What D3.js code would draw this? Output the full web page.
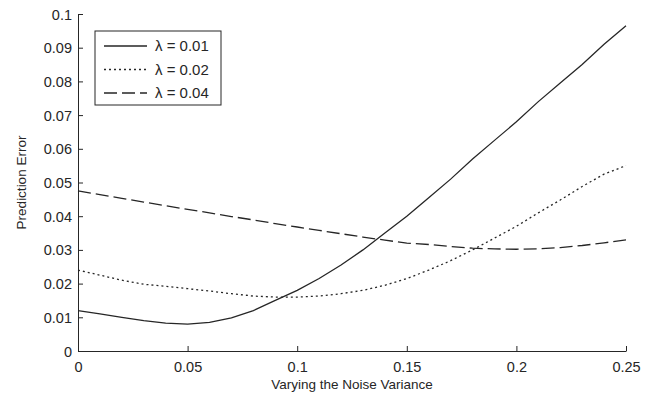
<!DOCTYPE html>
<html lang="en">
<head>
    <meta charset="UTF-8">
    <title>Prediction Error vs Noise Variance</title>
    <style>
        body { margin: 0; background: #fff; }
        text {
            font-family: "Liberation Sans", Arial, sans-serif;
            font-size: 13.5px;
            fill: #262626;
        }
        .axis text { font-size: 14.5px; }
        .axis path, .axis line { stroke: #262626; }
        .series { fill: none; stroke: #262626; stroke-width: 1.3px; }
    </style>
    <script src="https://d3js.org/d3.v7.min.js"></script>
</head>
<body>
<svg></svg>
<script>
    // noise variance values
    const noise = [0, 0.01, 0.02, 0.03, 0.04, 0.05, 0.06, 0.07, 0.08, 0.09, 0.1, 0.11, 0.12,
        0.13, 0.14, 0.15, 0.16, 0.17, 0.18, 0.19, 0.2, 0.21, 0.22, 0.23, 0.24, 0.25];
    const errL001 = [0.012, 0.011, 0.010, 0.009, 0.0083, 0.008, 0.0085, 0.0098, 0.012, 0.015,
        0.018, 0.0215, 0.0255, 0.030, 0.035, 0.040, 0.0455, 0.051, 0.057, 0.0625, 0.068,
        0.074, 0.0795, 0.085, 0.091, 0.0965];
    const errL002 = [0.024, 0.0225, 0.021, 0.0198, 0.0192, 0.0185, 0.0178, 0.017, 0.0163, 0.016,
        0.016, 0.0163, 0.017, 0.018, 0.0195, 0.0215, 0.024, 0.0268, 0.030, 0.0335, 0.037,
        0.041, 0.0448, 0.0488, 0.0525, 0.055];
    const errL004 = [0.0475, 0.0464, 0.0453, 0.0442, 0.0431, 0.042, 0.041, 0.0399, 0.0389, 0.0378,
        0.0368, 0.0358, 0.0348, 0.0338, 0.0329, 0.032, 0.0316, 0.031, 0.0305, 0.0303, 0.0302,
        0.0303, 0.0307, 0.0313, 0.0321, 0.033];
    const seriesNames = ["λ = 0.01", "λ = 0.02", "λ = 0.04"];
    const xTicks = [0, 0.05, 0.1, 0.15, 0.2, 0.25];
    const yTicks = [0, 0.01, 0.02, 0.03, 0.04, 0.05, 0.06, 0.07, 0.08, 0.09, 0.1];

    const series = [
        { name: seriesNames[0], values: errL001, dash: null },
        { name: seriesNames[1], values: errL002, dash: "2,3" },
        { name: seriesNames[2], values: errL004, dash: "13,5" }
    ];

    const width = 656, height = 402;
    const margin = { top: 14, right: 30, bottom: 51, left: 78 };
    const svg = d3.select("svg").attr("width", width).attr("height", height);

    const x = d3.scaleLinear().domain([0, 0.25]).range([margin.left, width - margin.right]);
    const y = d3.scaleLinear().domain([0, 0.1]).range([height - margin.bottom, margin.top]);

    const fmt = d => d === 0 ? "0" : String(+d.toFixed(2));

    // inward ticks, matlab style
    const xAxis = svg.append("g")
        .attr("class", "axis")
        .attr("transform", `translate(0,${y(0)})`)
        .call(d3.axisTop(x).tickValues(xTicks).tickSize(5).tickSizeOuter(0).tickFormat(""));
    xAxis.selectAll(".tick")
        .append("text")
        .attr("y", 20.5)
        .attr("text-anchor", "middle")
        .text(d => fmt(d));

    const yAxis = svg.append("g")
        .attr("class", "axis")
        .attr("transform", `translate(${x(0)},0)`)
        .call(d3.axisRight(y).tickValues(yTicks).tickSize(5).tickSizeOuter(0).tickFormat(""));
    yAxis.selectAll(".tick")
        .append("text")
        .attr("x", -6)
        .attr("dy", "0.35em")
        .attr("text-anchor", "end")
        .text(d => fmt(d));

    svg.append("text")
        .attr("x", (x(0) + x(0.25)) / 2)
        .attr("y", 389)
        .attr("text-anchor", "middle")
        .text("Varying the Noise Variance");

    svg.append("text")
        .attr("transform", `translate(26,${(y(0) + y(0.1)) / 2}) rotate(-90)`)
        .attr("text-anchor", "middle")
        .text("Prediction Error");

    const line = d3.line()
        .x((d, i) => x(noise[i]))
        .y(d => y(d));

    svg.append("g")
        .selectAll("path")
        .data(series)
        .enter().append("path")
        .attr("class", "series")
        .attr("stroke-dasharray", d => d.dash)
        .attr("d", d => line(d.values));

    // legend
    const legend = svg.append("g").attr("transform", "translate(95,31)");
    legend.append("rect")
        .attr("width", 126)
        .attr("height", 74)
        .attr("fill", "#fff")
        .attr("stroke", "#262626")
        .attr("stroke-width", 1);

    const item = legend.selectAll("g.item")
        .data(series)
        .enter().append("g")
        .attr("class", "item")
        .attr("transform", (d, i) => `translate(0,${15 + i * 23.5})`);
    item.append("line")
        .attr("class", "series")
        .attr("x1", 9).attr("x2", 52)
        .attr("stroke-dasharray", d => d.dash);
    item.append("text")
        .attr("x", 60)
        .attr("dy", "0.35em")
        .style("font-size", "15px")
        .text(d => d.name);
</script>
</body>
</html>
